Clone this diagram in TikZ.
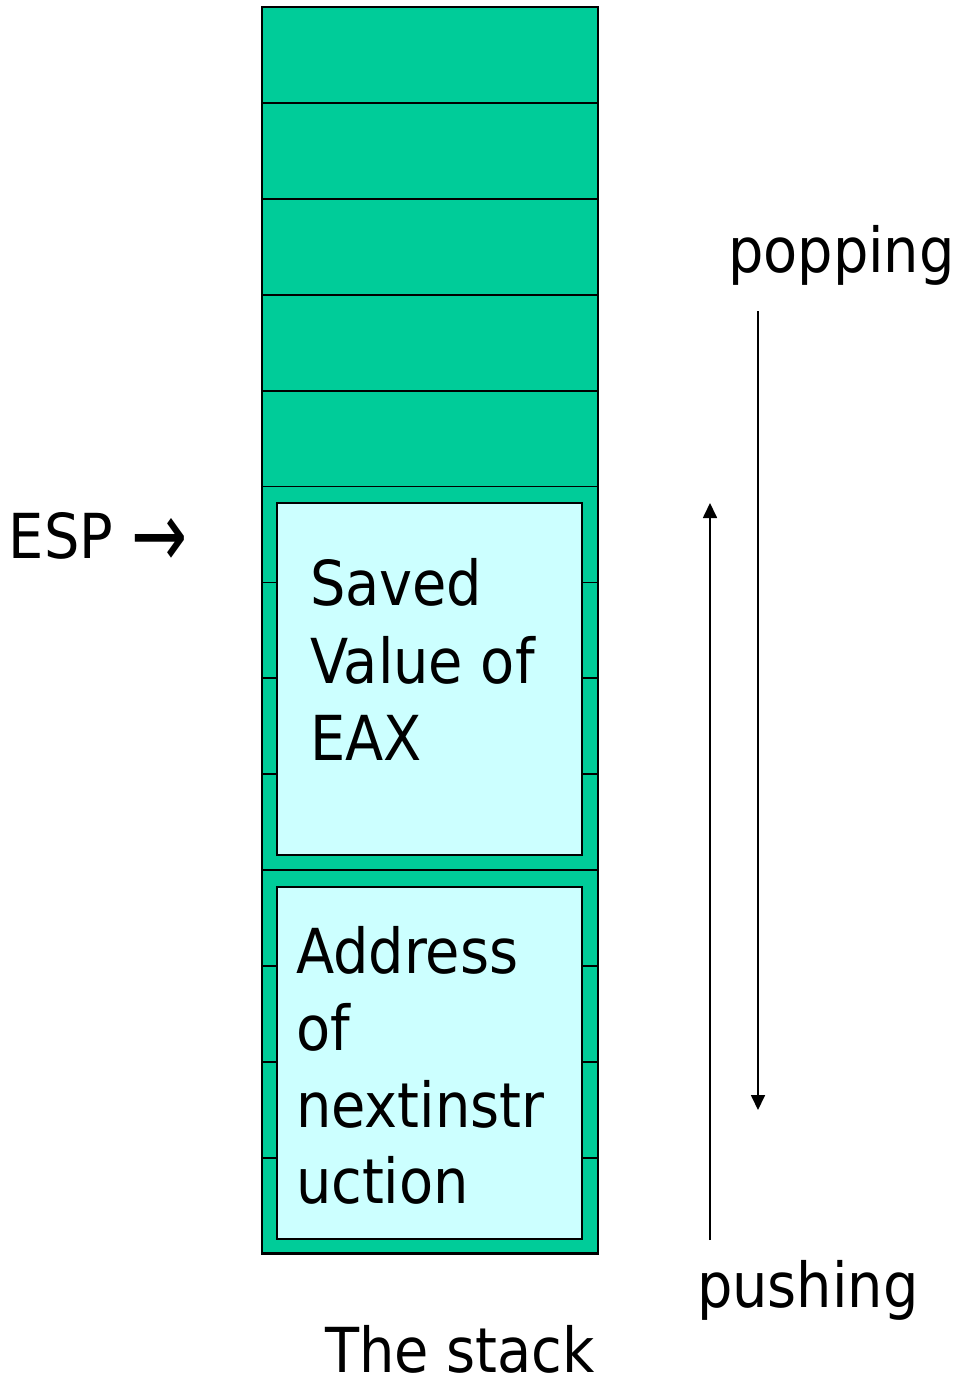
\documentclass[tikz,border=0pt]{standalone}
\usepackage{fontspec}
\setmainfont{DejaVu Sans}[FakeStretch=0.9]
\usetikzlibrary{arrows.meta}
\definecolor{stackgreen}{RGB}{0,204,153}
\definecolor{framecyan}{RGB}{204,255,255}
\begin{document}
\begin{tikzpicture}[x=1pt,y=-1pt,
  cell/.style={draw=black,line width=1.8pt,fill=stackgreen,minimum width=336pt,minimum height=95.9pt,inner sep=0pt,outer sep=0pt},
  frame/.style={draw=black,line width=1.7pt,fill=framecyan,minimum width=305pt,minimum height=352pt,inner sep=0pt,outer sep=0pt},
  lbl/.style={anchor=base west,inner sep=0pt,outer sep=0pt,font=\fontsize{62}{74}\selectfont},
  flow/.style={line width=1.7pt,-{Triangle[width=14pt,length=15pt]}}]
\useasboundingbox (0,0) rectangle (968,1379);
% stack cells
\foreach \i in {0,...,12}{
  \node[cell] (cell\i) at (430,{7+95.9*\i+47.95}) {};
}
\draw[line width=2.6pt] (cell0.north west) rectangle (cell12.south east);
% inner frames
\node[frame] (eaxbox) at (429.5,679) {};
\node[frame] (retbox) at (429.5,1063) {};
% texts
\node[lbl] (t1) at (310,605) {Saved};
\node[lbl] (t2) at (310,683) {Value of};
\node[lbl] (t3) at (310,760) {EAX};
\node[lbl] (a1) at (296,973) {Address};
\node[lbl] (a2) at (296,1050) {of};
\node[lbl] (a3) at (296,1127) {nextinstr};
\node[lbl] (a4) at (296,1203) {uction};
\node[lbl] (esp) at (9,558) {ESP \raisebox{-9pt}{\scalebox{1.2}[1.5]{→}}};
\node[lbl] (pop) at (728,272) {popping};
\node[lbl] (push) at (697,1307) {pushing};
\node[lbl] (cap) at (325,1372) {The stack};
% arrows
\coordinate (pushstart) at (710,1240);
\coordinate (pushend) at (710,503);
\coordinate (popstart) at (758,311);
\coordinate (popend) at (758,1110);
\draw[flow] (pushstart) -- (pushend);
\draw[flow] (popstart) -- (popend);
\end{tikzpicture}
\end{document}
